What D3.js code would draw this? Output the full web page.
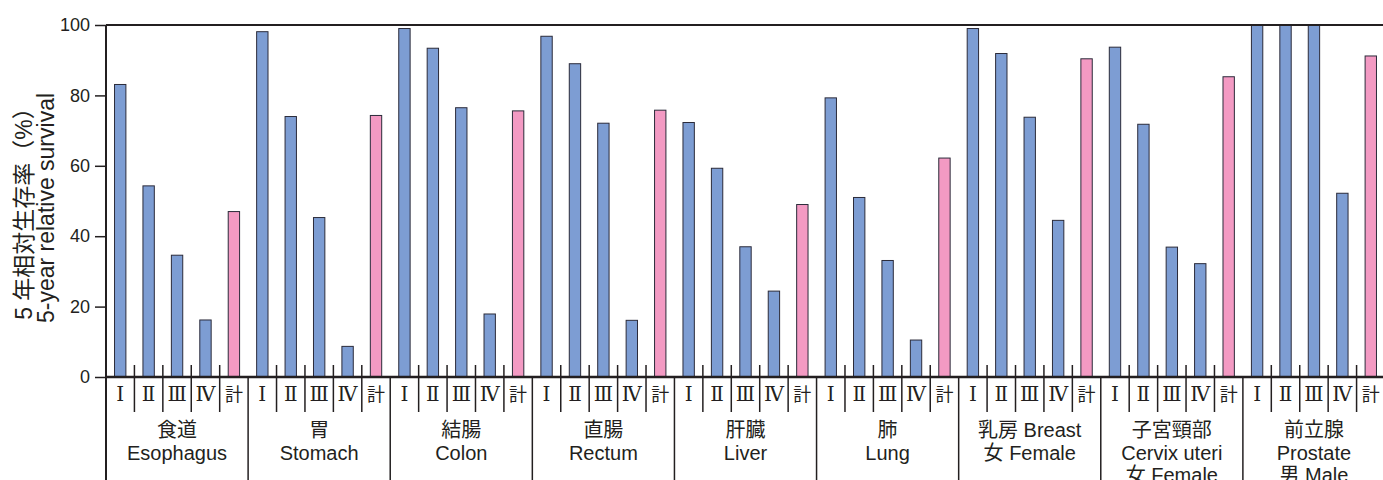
<!DOCTYPE html>
<html>
<head>
<meta charset="utf-8">
<script src="https://cdn.jsdelivr.net/npm/d3@7"></script>
<style>
  body { margin: 0; background: #fff; }
  svg text { fill: #231f20; }
</style>
</head>
<body>
<div id="chart"></div>
<script>
// 5-year relative survival by stage, per cancer site

var sites = ["esophagus", "stomach", "colon", "rectum", "liver", "lung", "breast", "cervix", "prostate"];
var siteLabels = [
  ["食道", "Esophagus"],
  ["胃", "Stomach"],
  ["結腸", "Colon"],
  ["直腸", "Rectum"],
  ["肝臓", "Liver"],
  ["肺", "Lung"],
  ["乳房 Breast", "女 Female"],
  ["子宮頸部", "Cervix uteri", "女 Female"],
  ["前立腺", "Prostate", "男 Male"]
];
var stages = ["I", "II", "III", "IV", "total"];
var stageLabels = ["Ⅰ", "Ⅱ", "Ⅲ", "Ⅳ", "計"];

// values for stage I, II, III, IV, total
var survival = [
  [83.1, 54.3, 34.6, 16.2, 47.0],
  [98.1, 74.0, 45.3, 8.7, 74.3],
  [99.0, 93.4, 76.5, 17.9, 75.6],
  [96.8, 89.0, 72.1, 16.1, 75.8],
  [72.3, 59.3, 37.0, 24.4, 49.0],
  [79.3, 51.0, 33.1, 10.5, 62.2],
  [99.0, 91.9, 73.8, 44.5, 90.4],
  [93.7, 71.8, 36.9, 32.2, 85.3],
  [100, 100, 100, 52.2, 91.2]
];
var yTicks = [0, 20, 40, 60, 80, 100];

var svgWidth = 1383, svgHeight = 480;
var margin = {top: 25, left: 106, bottom: 103};
var plotRight = 1385;
var baseY = svgHeight - margin.bottom;

var svg = d3.select("#chart").append("svg")
  .attr("width", svgWidth)
  .attr("height", svgHeight);

// scales
var xGroup = d3.scaleBand().domain(sites).range([margin.left, plotRight]).padding(0);
var xStage = d3.scaleBand().domain(stages).range([0, xGroup.bandwidth()])
  .paddingInner(0.6).paddingOuter(0.3);
var y = d3.scaleLinear().domain([0, 100]).range([baseY, margin.top]);

// flatten data for bars
var bars = [];
sites.forEach(function(s, i) {
  stages.forEach(function(st, j) {
    bars.push({site: s, stage: st, value: survival[i][j]});
  });
});

svg.append("g").selectAll("rect")
  .data(bars)
  .enter().append("rect")
  .attr("x", d => xGroup(d.site) + xStage(d.stage))
  .attr("y", d => y(d.value))
  .attr("width", xStage.bandwidth())
  .attr("height", d => baseY - y(d.value))
  .attr("fill", d => d.stage === "total" ? "#f39ac3" : "#7d9dd3")
  .attr("stroke", "#2b2b3a")
  .attr("stroke-width", 1);

// y axis
var yAxis = svg.append("g")
  .attr("transform", `translate(${margin.left},0)`)
  .call(d3.axisLeft(y).tickValues(yTicks).tickSize(11).tickPadding(5));
yAxis.select(".domain").remove();
yAxis.selectAll(".tick line").attr("stroke", "#231f20").attr("stroke-width", 1.5);
yAxis.selectAll(".tick text")
  .attr("font-family", "'Liberation Sans', Arial, sans-serif")
  .attr("font-size", 18)
  .attr("fill", "#231f20");

// frame lines: left axis, top border, baseline
svg.append("line")
  .attr("x1", margin.left).attr("x2", margin.left)
  .attr("y1", margin.top).attr("y2", svgHeight)
  .attr("stroke", "#231f20").attr("stroke-width", 2);
svg.append("line")
  .attr("x1", margin.left).attr("x2", plotRight)
  .attr("y1", margin.top).attr("y2", margin.top)
  .attr("stroke", "#231f20").attr("stroke-width", 2);
svg.append("line")
  .attr("x1", margin.left).attr("x2", plotRight)
  .attr("y1", baseY).attr("y2", baseY)
  .attr("stroke", "#231f20").attr("stroke-width", 2.5);

// group separators
svg.append("g").selectAll("line")
  .data(sites.slice(1))
  .enter().append("line")
  .attr("x1", d => xGroup(d)).attr("x2", d => xGroup(d))
  .attr("y1", baseY).attr("y2", svgHeight)
  .attr("stroke", "#231f20").attr("stroke-width", 1.5);

// short stage separators inside each group
var seps = [];
sites.forEach(function(s) {
  for (var k = 1; k < stages.length; k++) seps.push(xGroup(s) + k * xGroup.bandwidth() / stages.length);
});
svg.append("g").selectAll("line")
  .data(seps)
  .enter().append("line")
  .attr("x1", d => d).attr("x2", d => d)
  .attr("y1", baseY - 12).attr("y2", baseY + 35)
  .attr("stroke", "#231f20").attr("stroke-width", 1.5);

// stage labels (roman numerals serif, 計 gothic)
var stageLab = [];
sites.forEach(function(s) {
  stages.forEach(function(st, j) {
    stageLab.push({x: xGroup(s) + xStage(st) + xStage.bandwidth() / 2, text: stageLabels[j], total: st === "total"});
  });
});
svg.append("g").selectAll("text")
  .data(stageLab)
  .enter().append("text")
  .attr("x", d => d.x)
  .attr("y", baseY + 24)
  .attr("text-anchor", "middle")
  .attr("font-family", d => d.total ? "'Noto Sans CJK JP', sans-serif" : "'DejaVu Serif', 'Liberation Serif', serif")
  .attr("font-size", d => d.total ? 18 : 20)
  .text(d => d.text);

// group labels
var groupText = svg.append("g").selectAll("text")
  .data(sites)
  .enter().append("text")
  .attr("text-anchor", "middle")
  .attr("font-family", "'Liberation Sans', 'Noto Sans CJK JP', Arial, sans-serif")
  .attr("font-size", 20);
groupText.each(function(d, i) {
  var t = d3.select(this);
  siteLabels[i].forEach(function(line, k) {
    t.append("tspan")
      .attr("x", xGroup(d) + xGroup.bandwidth() / 2)
      .attr("y", baseY + 60 + k * 22.5)
      .text(line);
  });
});

// y axis title
var title = svg.append("text")
  .attr("transform", `translate(0,${(margin.top + baseY) / 2 + 7}) rotate(-90)`)
  .attr("text-anchor", "middle")
  .attr("font-family", "'Liberation Sans', 'Noto Sans CJK JP', Arial, sans-serif")
  .attr("font-size", 23);
title.append("tspan").attr("x", 0).attr("y", 32).text("5 年相対生存率（%）");
title.append("tspan").attr("x", 0).attr("y", 54).text("5-year relative survival");
</script>
</body>
</html>
